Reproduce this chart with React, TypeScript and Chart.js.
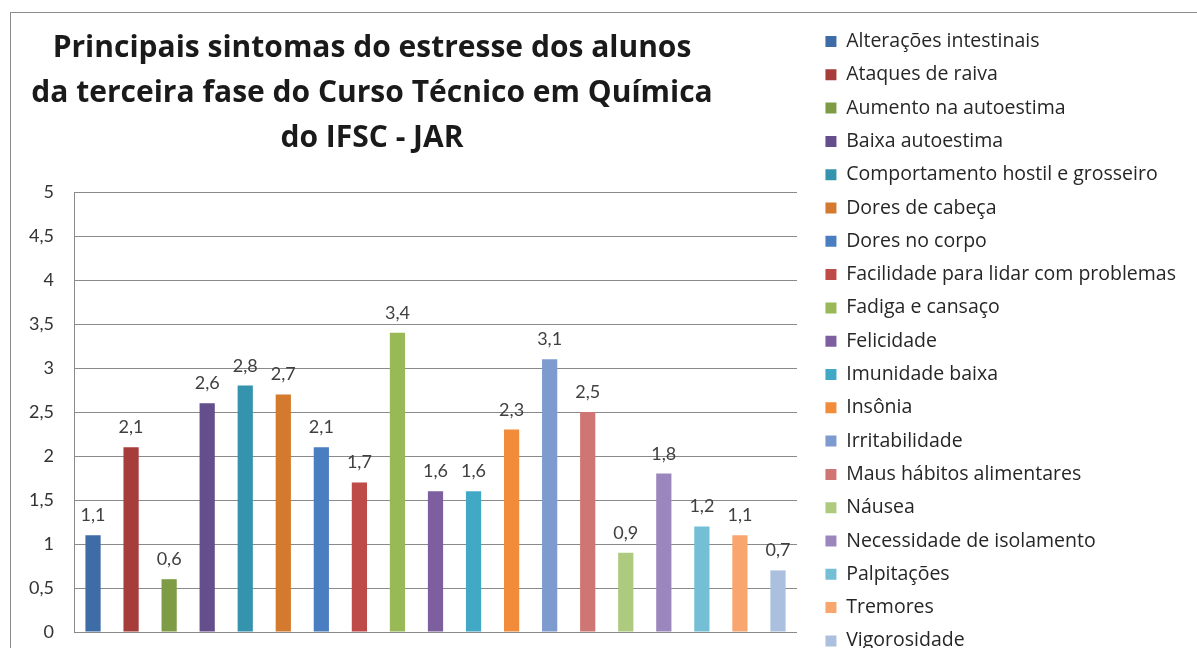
import React, { useEffect, useRef } from 'react';
import { Chart, registerables } from 'chart.js';

Chart.register(...registerables);

const titleLines = [
  'Principais sintomas do estresse dos alunos',
  'da terceira fase do Curso Técnico em Química',
  'do IFSC - JAR',
];

const symptoms = [
  'Alterações intestinais',
  'Ataques de raiva',
  'Aumento na autoestima',
  'Baixa autoestima',
  'Comportamento hostil e grosseiro',
  'Dores de cabeça',
  'Dores no corpo',
  'Facilidade para lidar com problemas',
  'Fadiga e cansaço',
  'Felicidade',
  'Imunidade baixa',
  'Insônia',
  'Irritabilidade',
  'Maus hábitos alimentares',
  'Náusea',
  'Necessidade de isolamento',
  'Palpitações',
  'Tremores',
  'Vigorosidade',
];

const values = [1.1, 2.1, 0.6, 2.6, 2.8, 2.7, 2.1, 1.7, 3.4, 1.6, 1.6, 2.3, 3.1, 2.5, 0.9, 1.8, 1.2, 1.1, 0.7];

const colors = [
  '#3D6CA7', '#A73D3A', '#7E9B46', '#654E8C', '#3494AD', '#D47A2E',
  '#4A7EC0', '#BE4B48', '#98B955', '#7D5FA0', '#41A8C6', '#F08C3A',
  '#7D9BCF', '#CF7674', '#AECA7E', '#9B87BD', '#74BFD6', '#F9A66E',
  '#ABC0DF',
];

const yMin = 0;
const yMax = 5;
const yStep = 0.5;

const NUM_FONT = 'Lato';
const TEXT_FONT = '"Open Sans"';
const LEGEND_FONT = 19.5;
const LEGEND_PAD = 13.8;
const LEGEND_BOX = 11;
const LEGEND_LEFT = 800.9;
const PLOT_LEFT = 63;
const PLOT_RIGHT = 786;
const PLOT_BOTTOM = 619;
const CANVAS_H = 680;
const TITLE_CENTER = 361;

const fmt = (v: number) => String(v).replace('.', ',');

const valueLabels = {
  id: 'valueLabels',
  afterDatasetsDraw(chart: any) {
    const { ctx } = chart;
    ctx.save();
    ctx.font = `18px ${NUM_FONT}`;
    ctx.fillStyle = '#404040';
    ctx.textAlign = 'center';
    ctx.textBaseline = 'alphabetic';
    chart.data.datasets.forEach((ds: any, i: number) => {
      const meta = chart.getDatasetMeta(i);
      meta.data.forEach((el: any, j: number) => {
        ctx.fillText(fmt(ds.data[j]), el.x, el.y - 14);
      });
    });
    ctx.restore();
  },
};

const titleShift = {
  id: 'titleShift',
  afterLayout(chart: any) {
    const t = chart.titleBlock;
    if (t) {
      const w = t.right - t.left;
      t.left = TITLE_CENTER - w / 2;
      t.right = TITLE_CENTER + w / 2;
    }
  },
};

export default function App() {
  const ref = useRef<HTMLCanvasElement>(null);

  useEffect(() => {
    const canvas = ref.current!;
    const W0 = 1180;
    canvas.width = W0;
    canvas.height = CANVAS_H;
    canvas.style.width = W0 + 'px';
    canvas.style.height = CANVAS_H + 'px';

    const chart = new Chart(canvas, {
      type: 'bar',
      data: {
        labels: [''],
        datasets: symptoms.map((name, i) => ({
          label: name,
          data: [values[i]],
          backgroundColor: colors[i],
          borderWidth: 0,
          categoryPercentage: 1,
          barPercentage: 0.4,
        })),
      },
      options: {
        responsive: false,
        maintainAspectRatio: false,
        animation: false,
        devicePixelRatio: 1,
        font: { family: NUM_FONT },
        layout: { padding: { top: 4.95, left: 0, right: 0, bottom: 0 } },
        plugins: {
          title: {
            display: true,
            text: titleLines,
            fullSize: false,
            color: '#1a1a1a',
            font: { family: TEXT_FONT, size: 30, weight: 'bold', lineHeight: 45 / 30 },
            padding: { top: 7.55, bottom: 31.5 },
          },
          legend: {
            position: 'right',
            align: 'start',
            maxWidth: 600,
            labels: {
              boxWidth: LEGEND_BOX,
              boxHeight: LEGEND_BOX,
              padding: LEGEND_PAD,
              color: '#262626',
              font: { family: TEXT_FONT, size: LEGEND_FONT },
            },
          },
          tooltip: { enabled: false },
        },
        scales: {
          x: {
            display: true,
            grid: { display: false },
            border: { display: false },
            ticks: { display: false },
            afterFit: (s: any) => {
              s.height = CANVAS_H - PLOT_BOTTOM;
            },
          },
          y: {
            min: yMin,
            max: yMax,
            position: 'left',
            grid: { color: '#8a8a8a', lineWidth: 1, drawTicks: false },
            border: { display: true, color: '#8a8a8a', width: 1 },
            ticks: {
              stepSize: yStep,
              padding: 20,
              color: '#333333',
              font: { family: NUM_FONT, size: 18 },
              callback: (v: any) => fmt(Number(v)),
            },
            afterFit: (s: any) => {
              s.width = PLOT_LEFT;
            },
          },
          yR: {
            type: 'linear',
            position: 'right',
            display: true,
            grid: { display: false },
            border: { display: false },
            ticks: { display: false },
            afterFit: (s: any) => {
              s.width = Math.max(0, s.chart.width - s.chart.legend.width - PLOT_RIGHT);
            },
          },
        },
      } as any,
      plugins: [valueLabels, titleShift],
    });

    const W1 = Math.round(LEGEND_LEFT + (chart as any).legend.width);
    if (W1 !== W0) {
      canvas.style.width = W1 + 'px';
      chart.resize(W1, CANVAS_H);
    }

    return () => chart.destroy();
  }, []);

  return (
    <div style={{ position: 'fixed', left: 0, top: 0, width: 1197, height: 648, overflow: 'hidden', background: '#ffffff' }}>
      <div
        style={{
          position: 'absolute',
          left: 10,
          top: 12,
          width: 1300,
          height: 800,
          border: '1px solid #8c8c8c',
          background: '#ffffff',
        }}
      >
        <canvas ref={ref} style={{ display: 'block' }} />
      </div>
    </div>
  );
}
